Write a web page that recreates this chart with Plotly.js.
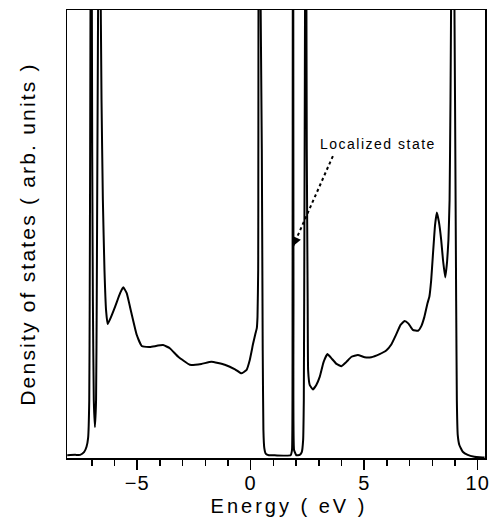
<!DOCTYPE html>
<html>
<head>
<meta charset="utf-8">
<script src="https://cdn.plot.ly/plotly-3.0.1.min.js"></script>
<style>
  html, body { margin: 0; padding: 0; background: #fff; }
  #chart { width: 493px; height: 523px; }
  .xtitle { letter-spacing: 3px; transform: translate(13px, 0px); }
  .ytitle { letter-spacing: 2.2px; }
  .annotation-text { letter-spacing: 1.5px; }
  .xtick text { letter-spacing: 1px; }
</style>
</head>
<body>
<div id="chart"></div>
<script>
// Energy (eV) and density of states (arb. units, 0-100 = bottom-top of frame)
const energy = [
  -8.08, -7.73, -7.51, -7.34, -7.23, -7.16, -7.11, -7.09, -7.07, -7.05, -7.03,
  -7.00, -6.98, -6.95, -6.91, -6.86, -6.81, -6.78, -6.75, -6.71, -6.66, -6.62,
  -6.57, -6.51, -6.44, -6.37, -6.30, -6.15, -5.97, -5.75, -5.61, -5.46, -5.25,
  -5.02, -4.80, -4.44, -3.86, -3.56, -3.19, -2.68, -2.17, -1.73, -1.14, -0.69,
  -0.41, -0.19, -0.04, 0.11, 0.21, 0.27, 0.30, 0.33, 0.36, 0.42, 0.49, 0.53,
  0.56, 0.60, 0.67, 0.80, 1.06, 1.76, 1.82, 1.845, 1.855, 1.865, 1.875, 1.885,
  1.91, 2.01, 2.16, 2.25, 2.31, 2.34, 2.37, 2.40, 2.42, 2.45, 2.47, 2.51,
  2.53, 2.60, 2.74, 2.89, 3.04, 3.21, 3.38, 3.55, 3.78, 4.00, 4.21, 4.44,
  4.72, 5.02, 5.31, 5.68, 5.97, 6.20, 6.42, 6.60, 6.78, 6.95, 7.14, 7.37,
  7.52, 7.65, 7.79, 7.87, 7.95, 8.02, 8.12, 8.20, 8.29, 8.39, 8.47, 8.57,
  8.65, 8.71, 8.76, 8.80, 8.84, 8.89, 8.96, 9.00, 9.05, 9.08, 9.12, 9.19,
  9.34, 9.56, 9.85, 10.08, 10.30
];
const dos = [
  0.6, 0.7, 0.7, 1.3, 2.5, 4.5, 12.9, 35, 69, 113, 200,
  113, 69, 35, 12.9, 6.9, 12.9, 35, 69, 113, 200, 113,
  80, 57.6, 42, 33, 29.9, 31.5, 33.8, 36.8, 38.1, 36.8, 32.3,
  27.5, 25.0, 24.8, 25.2, 24.5, 22.6, 20.8, 21.0, 21.5, 20.8, 19.8,
  18.9, 19.6, 21.9, 25.6, 27.8, 29.0, 31.5, 42, 200, 113, 69, 24,
  6.3, 2.2, 0.9, 0.6, 0.6, 0.6, 1.8, 35, 113, 200, 113, 35,
  1.8, 0.6, 0.7, 1.3, 4.0, 12.9, 57.6, 113, 200, 113, 69, 35,
  19.6, 16.3, 15.3, 16.3, 18.1, 21.4, 23.2, 22.3, 21.0, 20.5, 21.4, 22.6,
  23.0, 22.5, 22.5, 23.2, 24.0, 25.4, 27.7, 29.7, 30.6, 30.0, 28.6, 28.4,
  29.5, 31.5, 34.6, 36.0, 39.7, 44.9, 52.0, 54.8, 52.7, 48.7, 44.2, 40.3,
  43.8, 48.7, 57.6, 80, 113, 200, 113, 80, 35, 12.9, 5.1, 2.9,
  1.4, 0.7, 0.3, 0.16, 0.1
];

const xRange = [-8.09, 10.32];
const yRange = [0, 100];
const majorTicks = [-5, 0, 5, 10];
const majorLabels = ['\u22125', '0', '5', '10'];
const minorTicks = [-7, -6, -4, -3, -2, -1, 1, 2, 3, 4, 6, 7, 8, 9];

// annotation: label text and arrow (tail -> head) in data units
const noteText = 'Localized state';
const notePos = [5.62, 70.0];
const arrowTail = [3.62, 67.4];
const arrowHead = [1.87, 47.3];

const trace = {
  x: energy,
  y: dos,
  type: 'scatter',
  mode: 'lines',
  line: { color: '#000', width: 2, shape: 'spline', smoothing: 0.35 },
  hoverinfo: 'x+y',
  showlegend: false
};

const layout = {
  width: 493,
  height: 523,
  margin: { l: 67, r: 8, t: 10, b: 65 },
  paper_bgcolor: '#fff',
  plot_bgcolor: '#fff',
  font: { family: 'Liberation Sans, Arial, sans-serif', color: '#000' },
  xaxis: {
    range: xRange,
    showgrid: false,
    zeroline: false,
    showline: true,
    linecolor: '#000',
    linewidth: 1.5,
    mirror: true,
    tickmode: 'array',
    tickvals: majorTicks,
    ticktext: majorLabels,
    ticks: 'outside',
    ticklen: 10,
    tickwidth: 1.5,
    tickcolor: '#000',
    ticklabelstandoff: -4,
    tickfont: { size: 20, color: '#000' },
    minor: {
      tickmode: 'array',
      tickvals: minorTicks,
      ticks: 'outside',
      ticklen: 6,
      tickwidth: 1.5,
      tickcolor: '#000',
      showgrid: false
    },
    title: {
      text: 'Energy ( eV )',
      font: { size: 20, color: '#000' },
      standoff: 6
    }
  },
  yaxis: {
    range: yRange,
    showgrid: false,
    zeroline: false,
    showline: true,
    linecolor: '#000',
    linewidth: 1.5,
    mirror: true,
    ticks: '',
    showticklabels: false,
    title: {
      text: 'Density of states ( arb. units )\u00a0\u00a0',
      font: { size: 21, color: '#000' },
      standoff: 24
    }
  },
  shapes: [
    {
      type: 'line',
      xref: 'x', yref: 'y',
      x0: arrowTail[0], y0: arrowTail[1],
      x1: arrowHead[0], y1: arrowHead[1],
      line: { color: '#000', width: 2, dash: 'dot' }
    }
  ],
  annotations: [
    {
      x: notePos[0], y: notePos[1], xref: 'x', yref: 'y',
      text: noteText, showarrow: false,
      font: { size: 14, color: '#000' }
    },
    {
      x: arrowHead[0], y: arrowHead[1], xref: 'x', yref: 'y',
      text: '', showarrow: true,
      arrowhead: 2, arrowsize: 1.2, arrowwidth: 1.5, arrowcolor: '#000',
      ax: 3.5, ay: -8, standoff: 0
    }
  ]
};

Plotly.newPlot('chart', [trace], layout, { displayModeBar: false, staticPlot: true });
</script>
</body>
</html>
